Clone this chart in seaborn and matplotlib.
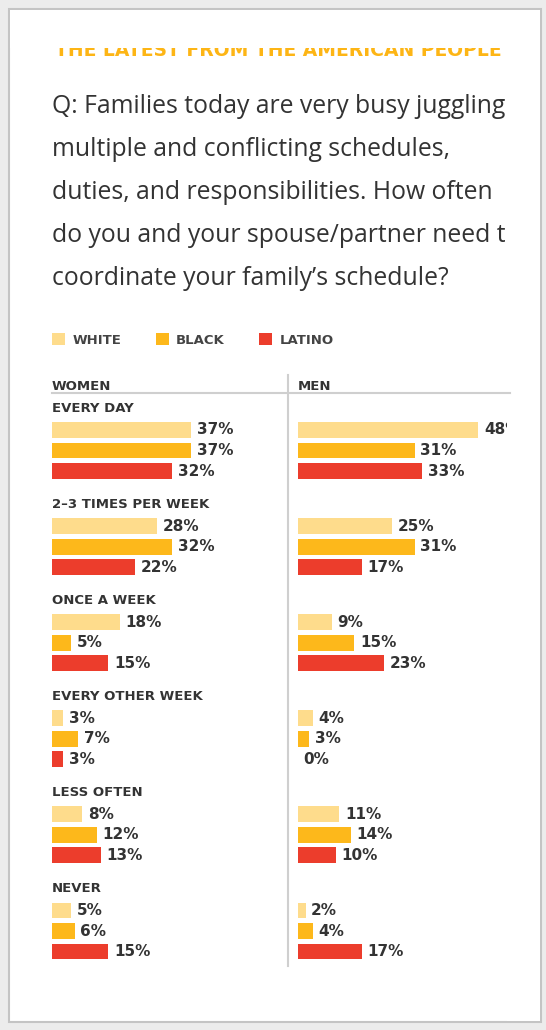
import pandas as pd
import matplotlib.pyplot as plt
from matplotlib.patches import Rectangle
import seaborn as sns

# ── Data ───────────────────────────────────────────────────────
categories = ["EVERY DAY", "2–3 TIMES PER WEEK", "ONCE A WEEK",
              "EVERY OTHER WEEK", "LESS OFTEN", "NEVER"]
groups = ["WHITE", "BLACK", "LATINO"]

women_white = [37, 28, 18, 3, 8, 5]
women_black = [37, 32, 5, 7, 12, 6]
women_latino = [32, 22, 15, 3, 13, 15]

men_white = [48, 25, 9, 4, 11, 2]
men_black = [31, 31, 15, 3, 14, 4]
men_latino = [33, 17, 23, 0, 10, 17]

heading = "THE LATEST FROM THE AMERICAN PEOPLE"
question = ["Q: Families today are very busy juggling",
            "multiple and conflicting schedules,",
            "duties, and responsibilities. How often",
            "do you and your spouse/partner need to",
            "coordinate your family’s schedule?"]

colors = ["#FEDC8C", "#FDB81B", "#EC3D2C"]
TEXT = "#333333"

W, H = 546, 1030
plt.rcParams['font.family'] = ['DejaVu Sans']
fig = plt.figure(figsize=(W / 100, H / 100), dpi=100)
fig.patch.set_facecolor('#ececec')


def px_axes(x0, y0, x1, y1):
    # box given in pixels, origin top-left
    return fig.add_axes([x0 / W, 1 - y1 / H, (x1 - x0) / W, (y1 - y0) / H])


def long_df(w, b, l):
    return pd.DataFrame({
        "Frequency": categories * 3,
        "Group": [g for g in groups for _ in categories],
        "Pct": w + b + l,
    })


# ── Card background ────────────────────────────────────────────
card = px_axes(0, 0, W, H)
card.set_xlim(0, W)
card.set_ylim(H, 0)
card.axis('off')
card.add_patch(Rectangle((9, 9), 532, 1013, facecolor='white',
                         edgecolor='#c4c4c4', lw=1.5))

# ── Bar panels ─────────────────────────────────────────────────
PX_PER_PCT = 3.76
CAT_PX = 96.1
FIRST_Y = 450.5
TOP, BOTTOM = 375, 975


def panel(x0, x1, data, legend):
    ax = px_axes(x0, TOP, x1, BOTTOM)
    sns.barplot(data=data, x="Pct", y="Frequency", hue="Group",
                order=categories, hue_order=groups, palette=colors,
                orient='h', width=0.64, gap=0.22, saturation=1,
                errorbar=None, linewidth=0, legend=legend, ax=ax)
    ax.set_xlim(0, (x1 - x0) / PX_PER_PCT)
    ax.set_ylim((BOTTOM - FIRST_Y) / CAT_PX, (TOP - FIRST_Y) / CAT_PX)
    ax.axis('off')
    for cont in ax.containers:
        ax.bar_label(cont, fmt='{:.0f}%', padding=4, fontsize=11,
                     fontweight='bold', color=TEXT)
    return ax


ax_w = panel(52, 288, long_df(women_white, women_black, women_latino), True)
ax_m = panel(298, 530, long_df(men_white, men_black, men_latino), False)

for i, cat in enumerate(categories):
    ax_w.text(0, i - 0.44, cat, ha='left', va='center', fontsize=9.5,
              fontweight='bold', color=TEXT)

sns.move_legend(ax_w, loc='center left', bbox_to_anchor=(52 / W, 1 - 340 / H),
                bbox_transform=fig.transFigure, ncol=3, frameon=False,
                title=None, handlelength=1.0, handleheight=1.0,
                handletextpad=0.55, columnspacing=2.6, borderaxespad=0,
                borderpad=0, prop={'weight': 'bold', 'size': 9.5},
                labelcolor='#444444')

# ── Text overlay ──────────────────────────────────────────────
ov = px_axes(0, 0, W, H)
ov.set_xlim(0, W)
ov.set_ylim(H, 0)
ov.axis('off')

ov.text(55, 56.5, heading, ha='left', va='baseline', fontsize=13.5,
        fontweight='bold', color='#FDB515')
for k, line in enumerate(question):
    ov.text(52, 113 + 43 * k, line, ha='left', va='baseline', fontsize=17.8,
            family=['Open Sans', 'DejaVu Sans'], color=TEXT)

ov.text(52, 386, "WOMEN", ha='left', va='center', fontsize=9.5,
        fontweight='bold', color=TEXT)
ov.text(298, 386, "MEN", ha='left', va='center', fontsize=9.5,
        fontweight='bold', color=TEXT)

# screenshot crop: content cut off at the top and right edge of the card
ov.add_patch(Rectangle((10, 10), 530, 38, facecolor='white', lw=0, zorder=5))
ov.add_patch(Rectangle((507, 48), 33, 973, facecolor='white', lw=0, zorder=5))

ov.plot([52, 510], [393, 393], color='#cfcfcf', lw=1.5, zorder=6)
ov.plot([288, 288], [375, 966], color='#cfcfcf', lw=1.5, zorder=6)

plt.savefig("out.png", dpi=100, facecolor=fig.get_facecolor())
